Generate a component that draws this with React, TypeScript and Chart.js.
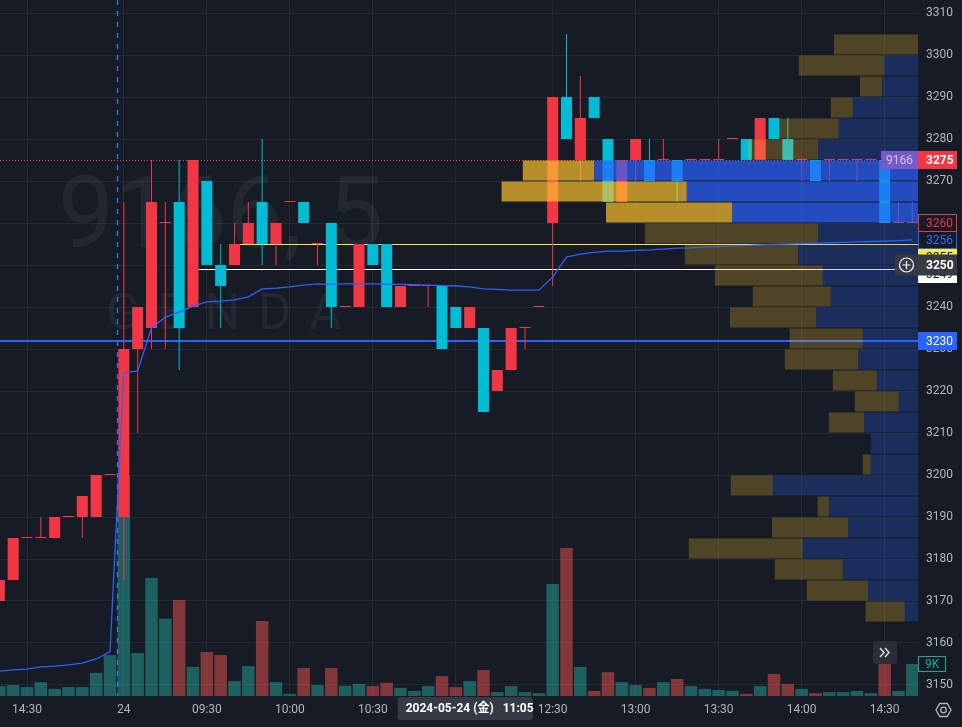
import React, { useEffect, useRef } from 'react';
import { Chart, registerables } from 'chart.js';

Chart.register(...registerables);

const FONT = "Roboto, 'Noto Sans CJK JP', 'Noto Sans', sans-serif";
const BG = '#171b26';
const GRID = '#242835';
const TEXT = '#b2b5be';
const UP = '#f23645';
const DOWN = '#00bcd4';

// ---- 5-minute bars, 2024-05-23 14:20 ... 2024-05-24 14:40 (bar index k = 0..66) ----
const opens = [
  3170, 3175, 3185, 3185, 3185, 3190, 3190, 3190, 3200, 3190, 3230, 3235, 3260, 3265, 3240, 3270, 3250,
  3250, 3255, 3265, 3255, 3265, 3265, 3255, 3260, 3240, 3240, 3255, 3255, 3240, 3245, 3245, 3245, 3240,
  3235, 3235, 3220, 3225, 3235, 3240, 3260, 3290, 3275, 3290, 3280, 3265, 3275, 3275, 3275, 3275, 3275,
  3275, 3275, 3280, 3280, 3275, 3285, 3280, 3275, 3275, 3275, 3275, 3275, 3275, 3275, 3260, 3260,
];
const highs = [
  3175, 3185, 3185, 3190, 3190, 3190, 3195, 3200, 3200, 3265, 3240, 3275, 3265, 3275, 3275, 3270, 3255,
  3260, 3265, 3280, 3260, 3265, 3265, 3255, 3260, 3240, 3255, 3255, 3255, 3245, 3245, 3245, 3245, 3240,
  3240, 3235, 3225, 3235, 3235, 3240, 3290, 3305, 3295, 3290, 3280, 3275, 3280, 3280, 3280, 3275, 3275,
  3275, 3280, 3280, 3280, 3285, 3285, 3285, 3275, 3275, 3275, 3275, 3275, 3275, 3275, 3265, 3265,
];
const lows = [
  3170, 3175, 3185, 3185, 3185, 3190, 3185, 3190, 3200, 3175, 3210, 3230, 3230, 3225, 3240, 3250, 3235,
  3250, 3255, 3250, 3250, 3265, 3260, 3250, 3235, 3240, 3240, 3250, 3240, 3240, 3245, 3240, 3230, 3235,
  3235, 3215, 3220, 3225, 3230, 3240, 3245, 3280, 3270, 3285, 3265, 3265, 3270, 3270, 3275, 3265, 3275,
  3275, 3275, 3280, 3275, 3275, 3280, 3275, 3270, 3270, 3270, 3275, 3270, 3275, 3260, 3260, 3260,
];
const closes = [
  3175, 3185, 3185, 3185, 3190, 3190, 3195, 3200, 3200, 3230, 3240, 3265, 3260, 3235, 3275, 3250, 3245,
  3255, 3260, 3255, 3260, 3265, 3260, 3255, 3240, 3240, 3255, 3250, 3240, 3245, 3245, 3245, 3230, 3235,
  3240, 3215, 3225, 3235, 3235, 3240, 3290, 3280, 3285, 3285, 3265, 3275, 3280, 3270, 3275, 3270, 3275,
  3275, 3275, 3280, 3275, 3285, 3280, 3275, 3275, 3270, 3275, 3275, 3275, 3275, 3260, 3260, 3260,
];
// volume in thousands of shares
const volumesK = [
  2.8, 3.1, 2.5, 3.9, 2.0, 2.5, 2.5, 6.5, 11.5, 62, 12.1, 33.2, 21.7, 27, 8.2, 12.4, 11.5,
  4.2, 8.4, 21.1, 3.9, 0.6, 7.9, 3.1, 7.9, 2.9, 3.4, 2.8, 3.7, 2.3, 1.4, 2.8, 5.6, 2.5,
  4.2, 7.3, 1.1, 2.8, 1.1, 0.8, 31.5, 41.6, 8.2, 1.4, 6.7, 3.9, 3.1, 2.3, 3.9, 4.8, 2.8,
  2.0, 1.7, 1.4, 0.6, 2.8, 6.2, 3.4, 2.0, 0.8, 1.1, 1.1, 1.4, 0.8, 9.0, 1.4, 9.0,
];
const vwap = [
  3153.3, 3153.6, 3153.8, 3154.3, 3154.5, 3154.8, 3155.2, 3156.2, 3157.9,
  3224.3, 3224.8, 3235.0, 3237.6, 3238.8, 3240.2, 3241.2, 3241.4, 3241.7, 3242.4, 3244.3, 3244.5, 3244.8, 3245.2, 3245.5,
  3245.4, 3245.5, 3245.5, 3245.5, 3245.4, 3245.4, 3245.3, 3245.2, 3245.1, 3245.0, 3244.8, 3244.3, 3244.2, 3244.0, 3244.0, 3244.0,
  3247.1, 3251.9, 3252.6, 3253.0, 3253.3, 3253.3, 3253.5, 3253.6, 3253.8, 3254.0, 3254.1, 3254.3, 3254.4, 3254.5, 3254.6,
  3254.8, 3254.9, 3255.0, 3255.1, 3255.2, 3255.3, 3255.4, 3255.5, 3255.6, 3255.7, 3255.8, 3256.0,
];

// time axis
const tickIndices = [2, 9, 15, 21, 27, 33, 40, 46, 52, 58, 64];
const tickLabels = ['14:30', '24', '09:30', '10:00', '10:30', '11:00', '12:30', '13:00', '13:30', '14:00', '14:30'];
const priceTicks = [3150, 3160, 3170, 3180, 3190, 3200, 3210, 3220, 3230, 3240, 3250, 3260, 3270, 3280, 3290, 3300, 3310];

// volume profile (5-yen rows, volume in thousands)
const profileLows = [3300, 3295, 3290, 3285, 3280, 3275, 3270, 3265, 3260, 3255, 3250, 3245, 3240, 3235,
  3230, 3225, 3220, 3215, 3210, 3205, 3200, 3195, 3190, 3185, 3180, 3175, 3170, 3165];
const profileUpK = [0, 8.5, 9, 16.3, 19.8, 25, 81, 57.8, 46.5, 25, 30, 23.8, 21.8, 25.5,
  13.8, 15, 10.3, 4.8, 13.5, 11.8, 11.8, 36.3, 22.3, 17.5, 28.8, 18.8, 12.5, 3.3];
const profileDownK = [21, 21.3, 5.5, 5.5, 14.8, 17.5, 17.8, 46.3, 31.5, 43.3, 28.3, 27, 19.5, 21.5,
  18.3, 18.3, 11, 11, 8.8, 0, 2, 10.5, 2.8, 19, 28.5, 17, 15.3, 9.8];
const valueAreaLows = [3260, 3265, 3270];

// levels & annotations
const sessionBreakIndex = 8.5;
const priceLineLevel = 3275;
const blueLevel = 3232;
const blueLevelText = '3230';
const yellowLevel = 3255;
const yellowStartIndex = 17.4;
const whiteLevel = 3249;
const whiteStartIndex = 14.4;
const crosshairPrice = 3250;
const crosshairIndex = 34;
const crosshairDate = '2024-05-24 (金)';
const crosshairTime = '11:05';
const symbolLabel = '9166';
const watermarkTitle = '9166, 5';
const watermarkSub = 'GENDA';

const N = closes.length;
const isUp = (k: number) => closes[k] >= opens[k];
const fmtK = (v: number) => `${Math.round(v)}K`;

const overlay = {
  id: 'overlay',
  beforeDraw(chart: any) {
    const { ctx, width, height } = chart;
    ctx.save();
    ctx.fillStyle = BG;
    ctx.fillRect(0, 0, width, height);
    ctx.restore();
  },
  beforeDatasetsDraw(chart: any) {
    const { ctx, chartArea: a, scales } = chart;
    const xs = scales.x, ys = scales.y;
    ctx.save();
    ctx.beginPath();
    ctx.rect(a.left, a.top, a.right - a.left, a.bottom - a.top);
    ctx.clip();

    // watermark
    ctx.fillStyle = 'rgba(255,255,255,0.055)';
    ctx.textAlign = 'left';
    ctx.textBaseline = 'alphabetic';
    ctx.font = `100px ${FONT}`;
    ctx.fillText(watermarkTitle, 58, 247);
    ctx.font = `50px ${FONT}`;
    let gx = 106;
    for (const ch of watermarkSub) {
      ctx.fillText(ch, gx, 329);
      gx += ctx.measureText(ch).width + 18;
    }

    const hline = (price: number, startIdx: number | null, color: string, w: number, dash: number[]) => {
      const y = Math.round(ys.getPixelForValue(price)) + (w % 2 ? 0.5 : 0);
      const x0 = startIdx == null ? a.left : xs.getPixelForValue(startIdx);
      ctx.beginPath();
      ctx.setLineDash(dash);
      ctx.strokeStyle = color;
      ctx.lineWidth = w;
      ctx.moveTo(x0, y);
      ctx.lineTo(a.right, y);
      ctx.stroke();
    };
    hline(priceLineLevel, null, UP, 1, [1, 2]);
    hline(blueLevel, null, '#2962ff', 2, []);
    hline(yellowLevel, yellowStartIndex, '#f7e54a', 1, []);
    hline(whiteLevel, whiteStartIndex, '#ffffff', 1, []);

    // session break
    const sx = Math.round(xs.getPixelForValue(sessionBreakIndex)) + 0.5;
    ctx.beginPath();
    ctx.setLineDash([5, 6]);
    ctx.strokeStyle = '#2f74f0';
    ctx.lineWidth = 1.4;
    ctx.moveTo(sx, a.top);
    ctx.lineTo(sx, a.bottom);
    ctx.stroke();
    ctx.restore();
  },
  afterDraw(chart: any) {
    const { ctx, chartArea: a, scales } = chart;
    const xs = scales.x, ys = scales.y, yv = scales.yVol;
    const x0 = a.right;
    const w = 39;
    ctx.save();
    ctx.setLineDash([]);
    const label = (top: number, h: number, text: string, bg: string, color: string, border?: string, bold?: boolean) => {
      ctx.fillStyle = bg;
      ctx.fillRect(x0, top, w, h);
      if (border) {
        ctx.strokeStyle = border;
        ctx.lineWidth = 1;
        ctx.strokeRect(x0 + 0.5, top + 0.5, w - 1, h - 1);
      }
      ctx.fillStyle = color;
      ctx.font = `${bold ? 'bold ' : ''}12px ${FONT}`;
      ctx.textAlign = 'left';
      ctx.textBaseline = 'middle';
      ctx.fillText(text, x0 + 8, top + h / 2 + 0.5);
    };
    const H = 18;
    const yOf = (p: number) => ys.getPixelForValue(p);

    // blue level
    label(Math.round(yOf(blueLevel)) - 9, H, blueLevelText, '#2962ff', '#ffffff');

    // price line + symbol label
    const pTop = Math.round(yOf(priceLineLevel)) - 9;
    label(pTop, H, String(priceLineLevel), UP, '#ffffff', undefined, true);
    ctx.fillStyle = '#7a58c6';
    ctx.fillRect(x0 - 37, pTop, 37, H);
    ctx.fillStyle = '#cdc4f7';
    ctx.font = `12px ${FONT}`;
    ctx.textAlign = 'center';
    ctx.textBaseline = 'middle';
    ctx.fillText(symbolLabel, x0 - 18.5, pTop + H / 2 + 0.5);

    // stacked labels (pushed down when overlapping)
    const lastClose = closes[N - 1];
    const lastVwap = vwap[N - 1];
    const stack = [
      { p: lastClose, text: String(lastClose), bg: BG, color: UP, border: UP },
      { p: lastVwap, text: String(Math.round(lastVwap)), bg: BG, color: '#2f6bff', border: '#2962ff' },
      { p: yellowLevel, text: String(yellowLevel), bg: '#ffeb3b', color: '#131722' },
      { p: whiteLevel, text: String(whiteLevel), bg: '#ffffff', color: '#131722' },
    ];
    let prevBottom = -Infinity;
    const tops: number[] = [];
    for (const s of stack) {
      const t = Math.max(Math.round(yOf(s.p)) - 9, prevBottom - 1);
      tops.push(t);
      prevBottom = t + H;
    }
    for (let j = stack.length - 1; j >= 0; j--) {
      const s = stack[j];
      label(tops[j], H, s.text, s.bg, s.color, s.border);
    }

    // crosshair price label + plus button
    const cTop = Math.round(yOf(crosshairPrice)) - 10.5;
    label(cTop, 21, String(crosshairPrice), '#363a45', '#ffffff', undefined, true);
    ctx.fillStyle = 'rgba(54,58,69,0.92)';
    ctx.fillRect(x0 - 23, cTop, 23, 21);
    const cx = x0 - 11.5, cy = cTop + 10.5;
    ctx.strokeStyle = '#ffffff';
    ctx.lineWidth = 1.2;
    ctx.beginPath();
    ctx.arc(cx, cy, 7, 0, Math.PI * 2);
    ctx.stroke();
    ctx.beginPath();
    ctx.moveTo(cx - 4, cy); ctx.lineTo(cx + 4, cy);
    ctx.moveTo(cx, cy - 4); ctx.lineTo(cx, cy + 4);
    ctx.stroke();

    // last volume label
    const vTop = Math.round(yv.getPixelForValue(volumesK[N - 1])) - 8;
    ctx.fillStyle = BG;
    ctx.fillRect(x0, vTop, 28, 16);
    ctx.strokeStyle = '#22ab94';
    ctx.lineWidth = 1;
    ctx.strokeRect(x0 + 0.5, vTop + 0.5, 27, 15);
    ctx.fillStyle = '#22ab94';
    ctx.font = `12px ${FONT}`;
    ctx.textAlign = 'left';
    ctx.textBaseline = 'middle';
    ctx.fillText(fmtK(volumesK[N - 1]), x0 + 7, vTop + 8.5);

    // scroll-to-realtime button
    const bx = x0 - 45, by = 641;
    ctx.fillStyle = '#2a2e39';
    ctx.beginPath();
    (ctx as any).roundRect ? (ctx as any).roundRect(bx, by, 24, 23, 4) : ctx.rect(bx, by, 24, 23);
    ctx.fill();
    ctx.strokeStyle = '#d1d4dc';
    ctx.lineWidth = 1.6;
    ctx.beginPath();
    ctx.moveTo(bx + 7, by + 7); ctx.lineTo(bx + 11, by + 11.5); ctx.lineTo(bx + 7, by + 16);
    ctx.moveTo(bx + 12, by + 7); ctx.lineTo(bx + 16, by + 11.5); ctx.lineTo(bx + 12, by + 16);
    ctx.stroke();

    // crosshair time label
    const tx = xs.getPixelForValue(crosshairIndex) - 72;
    const ty = a.bottom + 1;
    ctx.fillStyle = '#363a45';
    ctx.beginPath();
    (ctx as any).roundRect ? (ctx as any).roundRect(tx, ty, 135, 23, 3) : ctx.rect(tx, ty, 135, 23);
    ctx.fill();
    ctx.fillStyle = '#ffffff';
    ctx.font = `bold 12px ${FONT}`;
    ctx.textAlign = 'left';
    ctx.textBaseline = 'middle';
    ctx.fillText(crosshairDate, tx + 8, ty + 12);
    ctx.fillText(crosshairTime, tx + 105, ty + 12);

    // settings icon
    const gxC = 943.5, gyC = 710;
    ctx.strokeStyle = TEXT;
    ctx.lineWidth = 1.3;
    ctx.beginPath();
    for (let j = 0; j < 6; j++) {
      const ang = (Math.PI / 3) * j;
      const px = gxC + 7.5 * Math.cos(ang), py = gyC + 7.5 * Math.sin(ang);
      if (j === 0) ctx.moveTo(px, py); else ctx.lineTo(px, py);
    }
    ctx.closePath();
    ctx.stroke();
    ctx.beginPath();
    ctx.arc(gxC, gyC, 2.8, 0, Math.PI * 2);
    ctx.stroke();
    ctx.restore();
  },
};

const zeroPad = (s: any) => {
  s.paddingTop = 0;
  s.paddingBottom = 0;
  s.paddingLeft = 0;
  s.paddingRight = 0;
};

export default function App() {
  const ref = useRef<HTMLCanvasElement>(null);
  useEffect(() => {
    const canvas = ref.current;
    if (!canvas) return;
    const idx = closes.map((_, k) => k);
    const candleColors = idx.map((k) => (isUp(k) ? UP : DOWN));
    const volColors = idx.map((k) => (isUp(k) ? 'rgba(38,166,154,0.5)' : 'rgba(239,83,80,0.5)'));
    const vpUpColors = profileLows.map((p) => (valueAreaLows.includes(p) ? 'rgba(41,98,255,0.7)' : 'rgba(41,98,255,0.25)'));
    const vpDownColors = profileLows.map((p) => (valueAreaLows.includes(p) ? 'rgba(251,192,45,0.7)' : 'rgba(251,192,45,0.25)'));

    const PRICE_MIN = 3147.38;
    const PRICE_MAX = 3313.1;

    const chart = new Chart(canvas, {
      type: 'bar',
      data: {
        datasets: [
          {
            type: 'line',
            label: 'VWAP',
            data: idx.map((k) => ({ x: k, y: vwap[k] })),
            borderColor: '#2962ff',
            borderWidth: 1.3,
            pointRadius: 0,
            tension: 0,
            fill: false,
            xAxisID: 'x',
            yAxisID: 'y',
            order: 0,
          } as any,
          {
            label: 'VP up',
            indexAxis: 'y',
            data: profileLows.map((p, j) => ({ x: [0, profileUpK[j]], y: p + 2.5 })),
            backgroundColor: vpUpColors,
            xAxisID: 'xVP',
            yAxisID: 'yVP',
            grouped: false,
            barPercentage: 1.9,
            categoryPercentage: 1,
            maxBarThickness: 20,
            inflateAmount: 0,
            order: 1,
          } as any,
          {
            label: 'VP down',
            indexAxis: 'y',
            data: profileLows.map((p, j) => ({ x: [profileUpK[j], profileUpK[j] + profileDownK[j]], y: p + 2.5 })),
            backgroundColor: vpDownColors,
            xAxisID: 'xVP',
            yAxisID: 'yVP',
            grouped: false,
            barPercentage: 1.9,
            categoryPercentage: 1,
            maxBarThickness: 20,
            inflateAmount: 0,
            order: 1,
          } as any,
          {
            label: 'body',
            data: idx.map((k) => ({ x: k, y: [opens[k], closes[k]] })),
            backgroundColor: candleColors,
            xAxisID: 'x',
            yAxisID: 'y',
            grouped: false,
            barPercentage: 1,
            categoryPercentage: 1,
            barThickness: 11,
            maxBarThickness: 11,
            minBarLength: 1,
            inflateAmount: 0,
            order: 2,
          } as any,
          {
            label: 'wick',
            data: idx.map((k) => ({ x: k, y: [lows[k], highs[k]] })),
            backgroundColor: candleColors,
            xAxisID: 'x',
            yAxisID: 'y',
            grouped: false,
            barPercentage: 1,
            categoryPercentage: 1,
            barThickness: 1,
            maxBarThickness: 1,
            inflateAmount: 0,
            order: 3,
          } as any,
          {
            label: 'Volume',
            data: idx.map((k) => ({ x: k, y: volumesK[k] })),
            backgroundColor: volColors,
            xAxisID: 'x',
            yAxisID: 'yVol',
            grouped: false,
            barPercentage: 1,
            categoryPercentage: 1,
            barThickness: 12.5,
            maxBarThickness: 12.5,
            inflateAmount: 0,
            order: 4,
          } as any,
        ],
      },
      options: {
        responsive: false,
        devicePixelRatio: 1,
        animation: false,
        events: [],
        layout: { padding: 0 },
        plugins: { legend: { display: false }, tooltip: { enabled: false } },
        scales: {
          x: {
            type: 'linear',
            position: 'bottom',
            offset: false,
            min: 0.048,
            max: 66.41,
            grid: { color: GRID, drawTicks: false, offset: false },
            border: { display: false },
            ticks: {
              autoSkip: false,
              maxRotation: 0,
              padding: 7,
              color: TEXT,
              font: { family: FONT, size: 12 },
              callback: (v: any) => {
                const j = tickIndices.indexOf(Number(v));
                return j >= 0 ? tickLabels[j] : '';
              },
            },
            afterBuildTicks: (s: any) => {
              s.ticks = tickIndices.map((v) => ({ value: v }));
            },
            afterFit: (s: any) => {
              s.height = 31;
              zeroPad(s);
            },
          },
          y: {
            type: 'linear',
            position: 'right',
            offset: false,
            min: PRICE_MIN,
            max: PRICE_MAX,
            grid: { color: GRID, drawTicks: false, offset: false },
            border: { display: false },
            ticks: {
              padding: 8,
              color: TEXT,
              font: { family: FONT, size: 12 },
              callback: (v: any) => String(v),
            },
            afterBuildTicks: (s: any) => {
              s.ticks = priceTicks.map((v) => ({ value: v }));
            },
            afterFit: (s: any) => {
              s.width = 44;
              zeroPad(s);
            },
          },
          yVol: { type: 'linear', display: false, offset: false, min: 0, max: 195.75, afterFit: zeroPad },
          yVP: {
            type: 'linear',
            display: false,
            offset: false,
            min: PRICE_MIN,
            max: PRICE_MAX,
            afterBuildTicks: (s: any) => {
              s.ticks = [{ value: 3200 }];
            },
            afterFit: zeroPad,
          },
          xVP: { type: 'linear', display: false, offset: false, min: 0, max: 229.5, reverse: true, afterFit: zeroPad },
        },
      } as any,
      plugins: [overlay as any],
    });
    return () => chart.destroy();
  }, []);

  return (
    <div style={{ position: 'fixed', left: 0, top: 0, width: 962, height: 727, background: BG }}>
      <canvas ref={ref} width={962} height={727} style={{ display: 'block', width: 962, height: 727 }} />
    </div>
  );
}
